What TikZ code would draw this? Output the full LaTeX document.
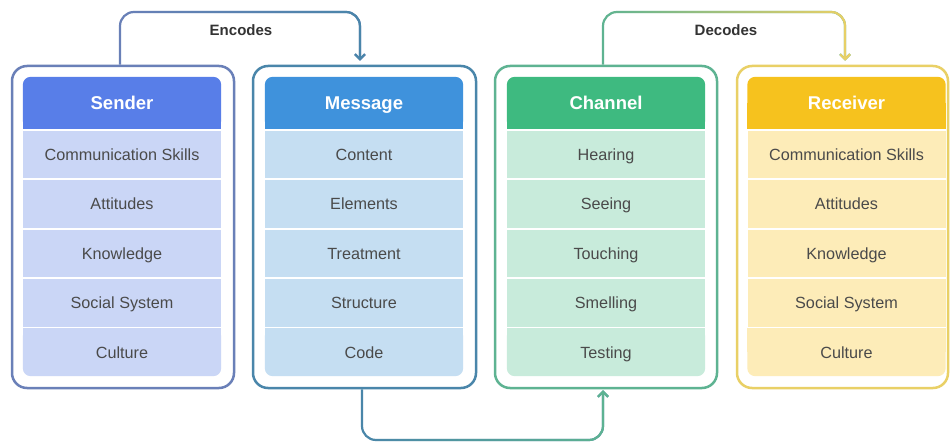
\documentclass[tikz,border=0pt]{standalone}
\usepackage{fontspec}
\setmainfont{Liberation Sans}
\usetikzlibrary{calc,backgrounds,fadings,arrows.meta}
\pgfdeclarelayer{bottom}
\pgfsetlayers{bottom,background,main}
\definecolor{senderhead}{HTML}{587EE8}
\definecolor{senderrow}{HTML}{CAD6F6}
\definecolor{senderedge}{HTML}{6A80B8}
\definecolor{messagehead}{HTML}{3F92DC}
\definecolor{messagerow}{HTML}{C5DEF2}
\definecolor{messageedge}{HTML}{4A86AA}
\definecolor{channelhead}{HTML}{3EBA80}
\definecolor{channelrow}{HTML}{C8EBDB}
\definecolor{channeledge}{HTML}{5EB392}
\definecolor{receiverhead}{HTML}{F6C21E}
\definecolor{receiverrow}{HTML}{FDECB8}
\definecolor{receiveredge}{HTML}{E9D066}
\definecolor{txt}{HTML}{4A4A4A}
\definecolor{lbl}{HTML}{333333}
\tikzfading[name=fadeinright, left color=transparent!100, right color=transparent!0]
\tikzset{
  headbox/.style={minimum width=198pt, minimum height=51.5pt, inner sep=0pt,
    text height=13.2pt, text depth=0pt,
    font=\fontsize{18.5}{22}\selectfont\bfseries, text=white},
  rowbox/.style={minimum width=198pt, minimum height=47.5pt, inner sep=0pt,
    text height=11.6pt, text depth=0pt,
    font=\fontsize{16.2}{19}\selectfont, text=txt},
  outerbox/.style={rounded corners=15pt, line width=2.5pt, minimum height=322pt, inner sep=0pt},
  flow/.style={line width=2.2pt, rounded corners=14pt, -{Straight Barb[length=5pt,width=10pt]}},
  lblstyle/.style={font=\fontsize{15}{18}\selectfont\bfseries, text=lbl,
    text height=10.8pt, text depth=0pt}
}
\newcommand\mkcol[8]{%
  \node[headbox] (#1-h) at (#2,102.75) {#3};
  \node[rowbox, fill=#1row] (#1-r1) at (#2,154.25) {#4};
  \node[rowbox, fill=#1row] (#1-r2) at (#2,203.75) {#5};
  \node[rowbox, fill=#1row] (#1-r3) at (#2,253.25) {#6};
  \node[rowbox, fill=#1row] (#1-r4) at (#2,302.75) {#7};
  \node[rowbox] (#1-r5) at (#2,352.25) {#8};
  \begin{scope}[on background layer]
    \fill[#1head, rounded corners=8pt] (#1-h.north west) rectangle (#1-h.south east);
    \fill[#1head] (#1-h.west) rectangle (#1-h.south east);
    \fill[#1row, rounded corners=8pt] (#1-r5.north west) rectangle (#1-r5.south east);
    \fill[#1row] (#1-r5.north west) rectangle (#1-r5.east);
  \end{scope}}
\begin{document}
\begin{tikzpicture}[x=1pt, y=-1pt]
\begin{pgfonlayer}{bottom}
\fill[white] (0,0) rectangle (950,444);
\end{pgfonlayer}
\useasboundingbox (0,0) rectangle (950,444);
% outer frames
\node[outerbox, draw=senderedge, minimum width=222pt] (sender) at (123,227) {};
\node[outerbox, draw=messageedge, minimum width=223pt] (message) at (364.5,227) {};
\node[outerbox, draw=channeledge, minimum width=222pt] (channel) at (606,227) {};
\node[outerbox, draw=receiveredge, minimum width=211pt] (receiver) at (842.5,227) {};
% columns
\mkcol{sender}{122}{Sender}{Communication Skills}{Attitudes}{Knowledge}{Social System}{Culture}
\mkcol{message}{364}{Message}{Content}{Elements}{Treatment}{Structure}{Code}
\mkcol{channel}{606}{Channel}{Hearing}{Seeing}{Touching}{Smelling}{Testing}
\mkcol{receiver}{846.5}{Receiver}{Communication Skills}{Attitudes}{Knowledge}{Social System}{Culture}
% connectors
\coordinate (enc) at (241,12);
\coordinate (dec) at (724,12);
\coordinate (bot) at (482,440);
\node[lblstyle] (enclbl) at (241,30) {Encodes};
\node[lblstyle] (declbl) at (726,30) {Decodes};
\draw[flow, draw=senderedge] ($(sender.north)+(-3,0)$) |- (enc) -| ($(message.north)+(-4.5,-4)$);
\draw[flow, draw=messageedge, path fading=fadeinright] ($(sender.north)+(-3,0)$) |- (enc) -| ($(message.north)+(-4.5,-4)$);
\draw[flow, draw=channeledge] ($(channel.north)+(-3,0)$) |- (dec) -| ($(receiver-h.north |- receiver.north)+(-1.5,-4)$);
\draw[flow, draw=receiveredge, path fading=fadeinright] ($(channel.north)+(-3,0)$) |- (dec) -| ($(receiver-h.north |- receiver.north)+(-1.5,-4)$);
\draw[flow, draw=messageedge] ($(message.south)+(-2.5,0)$) |- (bot) -| ($(channel.south)+(-3,1)$);
\draw[flow, draw=channeledge, path fading=fadeinright] ($(message.south)+(-2.5,0)$) |- (bot) -| ($(channel.south)+(-3,1)$);
\end{tikzpicture}
\end{document}
